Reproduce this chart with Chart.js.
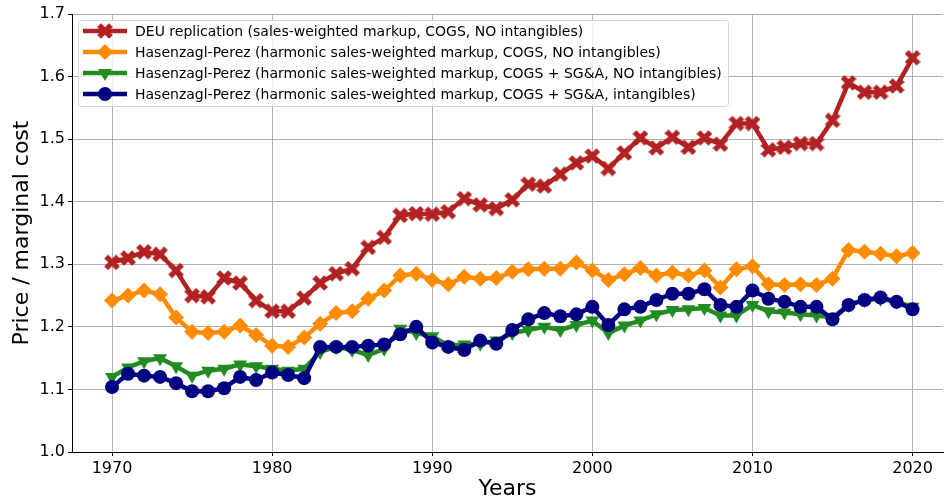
<!DOCTYPE html>
<html>
<head>
<meta charset="utf-8">
<script src="https://cdn.jsdelivr.net/npm/chart.js@4.4.0/dist/chart.umd.min.js"></script>
<style>
  body { margin: 0; background: #fff; }
  #wrap { width: 944px; height: 502px; }
</style>
</head>
<body>
<div id="wrap"><canvas id="chart" width="944" height="502"></canvas></div>
<script>
// 데이터
const years = [];
for (let y = 1970; y <= 2020; y++) years.push(y);

const deuReplication = [
  1.303, 1.310, 1.320, 1.316, 1.290, 1.250, 1.248, 1.278, 1.270, 1.242,
  1.225, 1.225, 1.246, 1.270, 1.285, 1.293, 1.327, 1.343, 1.378, 1.381,
  1.380, 1.384, 1.405, 1.395, 1.389, 1.403, 1.428, 1.425, 1.444, 1.462,
  1.473, 1.453, 1.478, 1.502, 1.486, 1.503, 1.487, 1.502, 1.492, 1.525,
  1.525, 1.483, 1.487, 1.493, 1.493, 1.530, 1.590, 1.575, 1.575, 1.585,
  1.630
];
const hpCogs = [
  1.242, 1.250, 1.258, 1.252, 1.215, 1.192, 1.190, 1.192, 1.202, 1.187,
  1.170, 1.168, 1.183, 1.205, 1.222, 1.225, 1.245, 1.258, 1.282, 1.285,
  1.275, 1.268, 1.280, 1.277, 1.278, 1.288, 1.292, 1.293, 1.293, 1.303,
  1.290, 1.275, 1.284, 1.294, 1.282, 1.287, 1.282, 1.290, 1.263, 1.292,
  1.297, 1.268, 1.267, 1.268, 1.267, 1.277, 1.323, 1.320, 1.317, 1.313,
  1.318
];
const hpCogsSga = [
  1.120, 1.135, 1.145, 1.150, 1.137, 1.122, 1.130, 1.133, 1.140, 1.137,
  1.133, 1.130, 1.133, 1.160, 1.168, 1.163, 1.155, 1.165, 1.197, 1.190,
  1.185, 1.170, 1.172, 1.173, 1.178, 1.190, 1.195, 1.200, 1.195, 1.203,
  1.210, 1.190, 1.202, 1.210, 1.220, 1.227, 1.228, 1.230, 1.218, 1.218,
  1.235, 1.225, 1.223, 1.220, 1.218, 1.215, 1.235, 1.243, 1.245, 1.240,
  1.232
];
const hpCogsSgaIntang = [
  1.104, 1.125, 1.122, 1.120, 1.110, 1.097, 1.097, 1.102, 1.120, 1.115,
  1.127, 1.123, 1.118, 1.168, 1.168, 1.168, 1.170, 1.172, 1.188, 1.200,
  1.175, 1.168, 1.163, 1.178, 1.173, 1.195, 1.212, 1.222, 1.217, 1.220,
  1.232, 1.203, 1.228, 1.232, 1.243, 1.253, 1.253, 1.260, 1.235, 1.232,
  1.258, 1.245, 1.240, 1.232, 1.232, 1.212, 1.235, 1.243, 1.247, 1.240,
  1.228
];
const xTicks = [1970, 1980, 1990, 2000, 2010, 2020];
const yTicks = [1.0, 1.1, 1.2, 1.3, 1.4, 1.5, 1.6, 1.7];
const seriesLabels = [
  'DEU replication (sales-weighted markup, COGS, NO intangibles)',
  'Hasenzagl-Perez (harmonic sales-weighted markup, COGS, NO intangibles)',
  'Hasenzagl-Perez (harmonic sales-weighted markup, COGS + SG&A, NO intangibles)',
  'Hasenzagl-Perez (harmonic sales-weighted markup, COGS + SG&A, intangibles)'
];

const FONT = "'DejaVu Sans', sans-serif";

// 채워진 X 마커
function makeXMarker(color, size) {
  const c = document.createElement('canvas');
  c.width = size; c.height = size;
  const g = c.getContext('2d');
  const r = size / 2;
  const w = size * 0.17;
  g.fillStyle = color;
  g.translate(r, r);
  g.rotate(Math.PI / 4);
  g.fillRect(-r * 1.05, -w, r * 2.1, w * 2);
  g.fillRect(-w, -r * 1.05, w * 2, r * 2.1);
  return c;
}

const colors = ['#b22222', '#ff8c00', '#228b22', '#000080'];

const pointStyles = [
  { pointStyle: makeXMarker(colors[0], 16), radius: 8, rotation: 0 },
  { pointStyle: 'rectRot', radius: 8, rotation: 0 },
  { pointStyle: 'triangle', radius: 8, rotation: 180 },
  { pointStyle: 'circle', radius: 7, rotation: 0 }
];

const seriesData = [deuReplication, hpCogs, hpCogsSga, hpCogsSgaIntang];

const datasets = seriesData.map((vals, i) => ({
  label: seriesLabels[i],
  data: years.map((y, k) => ({ x: y, y: vals[k] })),
  borderColor: colors[i],
  backgroundColor: colors[i],
  borderWidth: 4.5,
  pointStyle: pointStyles[i].pointStyle,
  pointRadius: pointStyles[i].radius,
  pointRotation: pointStyles[i].rotation,
  pointBorderWidth: 0,
  pointBackgroundColor: colors[i],
  pointBorderColor: colors[i],
  tension: 0,
  order: 4 - i
}));

// 범례를 플롯 안쪽 왼쪽 위에 그림
const insideLegend = {
  id: 'insideLegend',
  afterDraw(chart) {
    const ctx = chart.ctx;
    const bx = 78, by = 20, bw = 650, bh = 86;
    ctx.save();
    ctx.beginPath();
    ctx.roundRect(bx + 0.5, by + 0.5, bw, bh, 3);
    ctx.fillStyle = 'rgba(255,255,255,0.8)';
    ctx.fill();
    ctx.strokeStyle = '#d6d6d6';
    ctx.lineWidth = 1;
    ctx.stroke();
    ctx.font = '14px ' + FONT;
    ctx.textBaseline = 'middle';
    for (let i = 0; i < 4; i++) {
      const y = by + 11 + i * 21;
      ctx.strokeStyle = colors[i];
      ctx.lineWidth = 4.5;
      ctx.beginPath();
      ctx.moveTo(83, y);
      ctx.lineTo(127, y);
      ctx.stroke();
      ctx.fillStyle = colors[i];
      Chart.helpers.drawPoint(ctx, {
        pointStyle: pointStyles[i].pointStyle,
        radius: pointStyles[i].radius,
        rotation: pointStyles[i].rotation,
        borderWidth: 0
      }, 105, y);
      ctx.fillStyle = '#000';
      ctx.fillText(seriesLabels[i], 135, y + 1);
    }
    ctx.restore();
  }
};

new Chart(document.getElementById('chart').getContext('2d'), {
  type: 'line',
  data: { datasets },
  options: {
    responsive: false,
    animation: false,
    devicePixelRatio: 1,
    layout: { autoPadding: false, padding: { top: 14, right: 1, left: 0, bottom: 0 } },
    plugins: {
      legend: { display: false },
      tooltip: { enabled: false }
    },
    scales: {
      x: {
        type: 'linear',
        min: 1967.5,
        max: 2021.9,
        afterBuildTicks: (axis) => { axis.ticks = xTicks.map(v => ({ value: v })); },
        afterFit: (scale) => {
          scale.height = 50;
          scale.paddingLeft = 0;
          scale.paddingRight = 0;
        },
        ticks: {
          color: '#000',
          font: { family: FONT, size: 16 },
          padding: 3,
          maxRotation: 0,
          callback: (v) => String(v)
        },
        grid: { color: '#b0b0b0', lineWidth: 1, tickColor: '#000', tickLength: 4 },
        border: { color: '#000', width: 1 },
        title: {
          display: true,
          text: 'Years',
          color: '#000',
          font: { family: FONT, size: 22 },
          padding: { top: 0, bottom: 0 }
        }
      },
      y: {
        min: 1.0,
        max: 1.7,
        afterBuildTicks: (axis) => { axis.ticks = yTicks.map(v => ({ value: v })); },
        afterFit: (scale) => { scale.width = 72; },
        ticks: {
          color: '#000',
          font: { family: FONT, size: 16 },
          padding: 3,
          callback: (v) => Number(v).toFixed(1)
        },
        grid: { color: '#b0b0b0', lineWidth: 1, tickColor: '#000', tickLength: 4 },
        border: { color: '#000', width: 1 },
        title: {
          display: true,
          text: 'Price / marginal cost',
          color: '#000',
          font: { family: FONT, size: 22 },
          padding: { top: 9, bottom: 0 }
        }
      }
    }
  },
  plugins: [insideLegend]
});
</script>
</body>
</html>
